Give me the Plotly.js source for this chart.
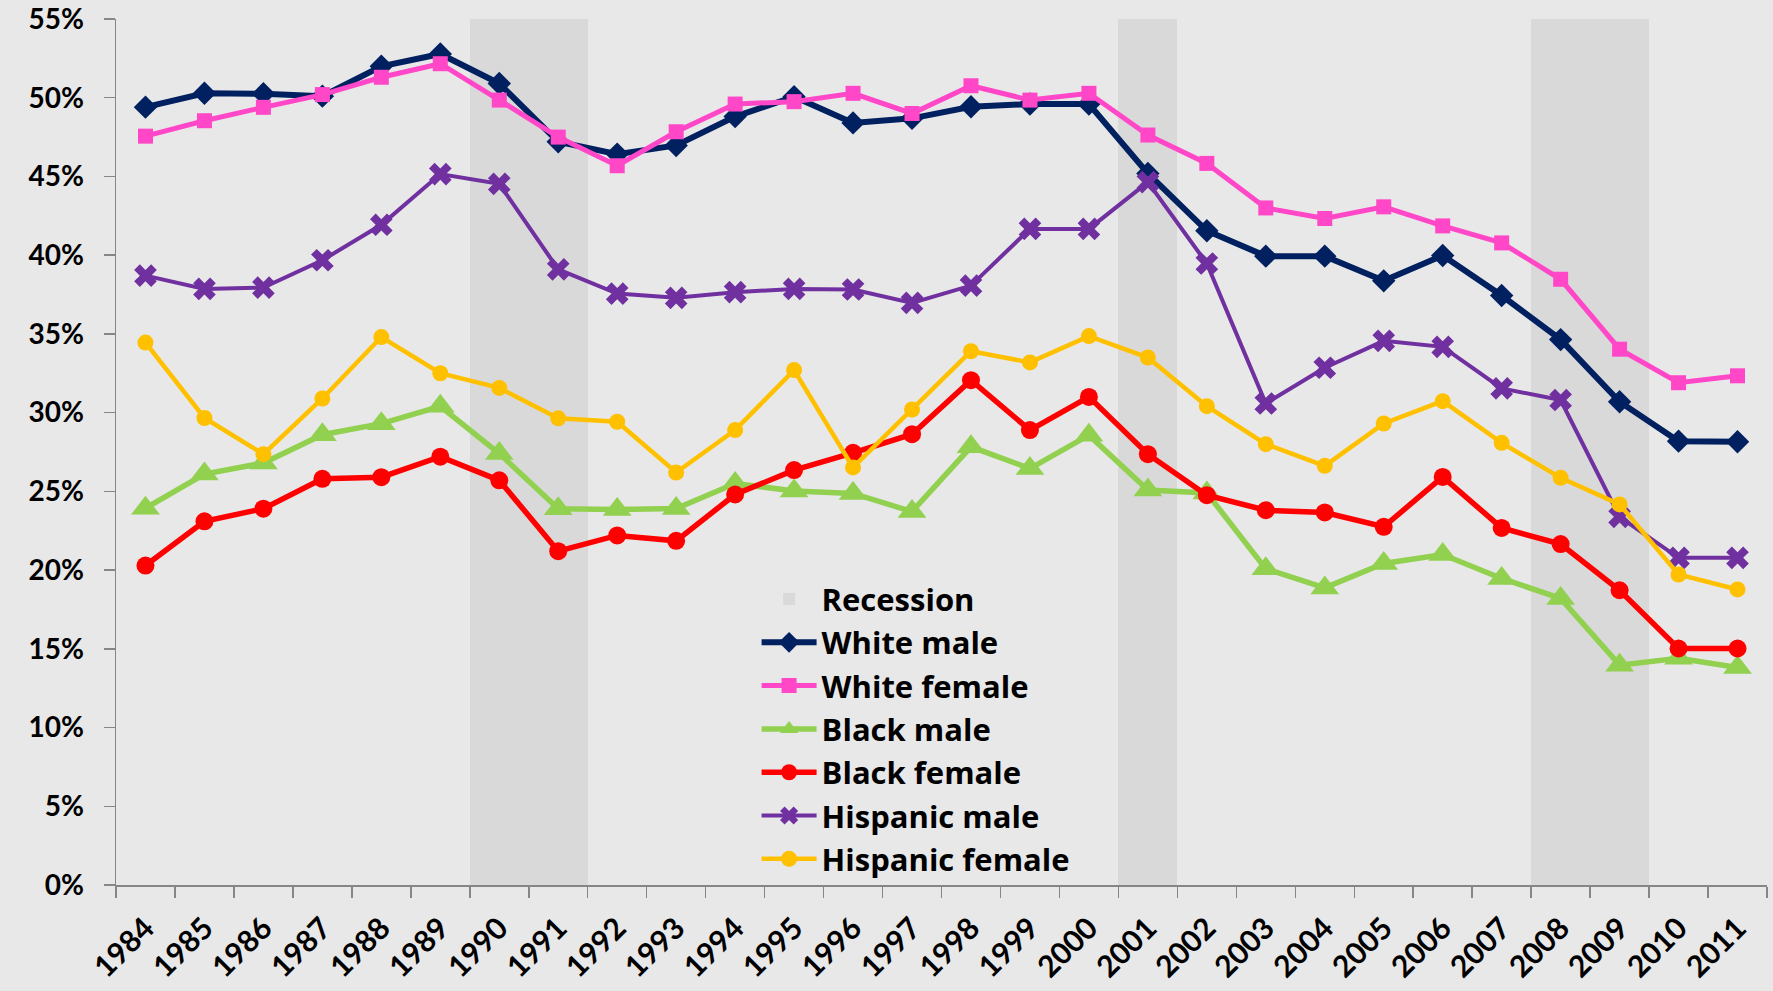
<!DOCTYPE html>
<html>
<head>
<meta charset="utf-8">
<script src="https://cdn.plot.ly/plotly-3.0.1.min.js"></script>
<style>
html,body{margin:0;padding:0;background:#e8e8e8;}
#chart{width:1773px;height:991px;}
</style>
</head>
<body>
<div id="chart"></div>
<script>
const years = ['1984','1985','1986','1987','1988','1989','1990','1991','1992','1993','1994','1995','1996','1997','1998','1999','2000','2001','2002','2003','2004','2005','2006','2007','2008','2009','2010','2011'];
const recessionYears = ['1990','1991','2001','2008','2009'];
const recessionTop = 55;

const whiteMale = [49.4,50.28,50.25,50.1,52.0,52.78,50.9,47.2,46.42,46.97,48.8,50.06,48.4,48.69,49.43,49.6,49.6,45.19,41.55,39.94,39.94,38.37,39.98,37.44,34.64,30.69,28.19,28.15];
const whiteFemale = [47.56,48.54,49.39,50.2,51.3,52.16,49.85,47.5,45.68,47.84,49.6,49.75,50.28,49.0,50.76,49.85,50.28,47.63,45.83,43.0,42.33,43.07,41.86,40.78,38.47,34.03,31.9,32.34];
const blackMale = [23.93,26.1,26.8,28.6,29.3,30.4,27.4,23.9,23.85,23.91,25.5,25.03,24.87,23.72,27.83,26.45,28.57,25.08,24.9,20.08,18.87,20.42,20.99,19.47,18.2,13.96,14.4,13.81];
const blackFemale = [20.29,23.1,23.9,25.8,25.9,27.2,25.7,21.2,22.2,21.86,24.8,26.35,27.45,28.63,32.06,28.89,31.0,27.36,24.76,23.8,23.66,22.75,25.92,22.68,21.65,18.72,15.02,15.02];
const hispanicMale = [38.7,37.86,37.94,39.68,41.93,45.15,44.53,39.1,37.56,37.29,37.65,37.86,37.82,36.97,38.07,41.67,41.67,44.64,39.47,30.58,32.85,34.56,34.18,31.54,30.8,23.38,20.78,20.78];
const hispanicFemale = [34.45,29.66,27.36,30.9,34.8,32.5,31.57,29.64,29.42,26.2,28.89,32.7,26.52,30.2,33.9,33.19,34.86,33.5,30.41,28.0,26.62,29.31,30.73,28.08,25.86,24.17,19.72,18.77];

const recession = years.map(y => recessionYears.includes(y) ? recessionTop : null);

function line(name, vals, color, width, symbol, size) {
  return {
    type: 'scatter', mode: 'lines+markers', name: name, x: years, y: vals,
    line: {color: color, width: width},
    marker: {color: color, symbol: symbol, size: size, line: {width: 0}},
    hoverinfo: 'skip'
  };
}

const data = [
  {type: 'bar', name: 'Recession', x: years, y: recession, width: 1,
   marker: {color: '#d9d9d9', line: {width: 0}}, hoverinfo: 'skip'},
  line('White male', whiteMale, '#002060', 6, 'diamond', 18),
  line('White female', whiteFemale, '#ff47c8', 5, 'square', 15),
  line('Black male', blackMale, '#92d050', 5.5, 'triangle-up', 25),
  line('Black female', blackFemale, '#ff0000', 5.5, 'circle', 18),
  line('Hispanic male', hispanicMale, '#7030a0', 4, 'x', 20),
  line('Hispanic female', hispanicFemale, '#ffc000', 4.5, 'circle', 16)
];

const yFont = {family: 'Lato, sans-serif', size: 28, color: '#000', weight: 'bold'};
const xFont = {family: 'Lato, sans-serif', size: 30, color: '#000', weight: 'bold'};

const layout = {
  width: 1773, height: 991,
  paper_bgcolor: '#e8e8e8', plot_bgcolor: '#e8e8e8',
  margin: {l: 116, r: 6, t: 19, b: 106},
  showlegend: true,
  bargap: 0,
  legend: {
    x: 0.388, y: 0.361, xanchor: 'left', yanchor: 'top',
    bgcolor: 'rgba(0,0,0,0)',
    itemwidth: 55,
    font: {family: '"Open Sans", sans-serif', size: 31, color: '#000', weight: 'bold'},
    traceorder: 'normal'
  },
  xaxis: {
    type: 'category', range: [-0.5, 27.5], showgrid: false, zeroline: false,
    showline: true, linecolor: '#868686', linewidth: 1.5,
    ticks: 'outside', ticklen: 11, tickcolor: '#868686', tickwidth: 1.5,
    tickson: 'boundaries', tickangle: -45, ticklabelstandoff: 12,
    tickfont: xFont
  },
  yaxis: {
    range: [0, 55], dtick: 5, ticksuffix: '%', showgrid: false, zeroline: false,
    showline: true, linecolor: '#868686', linewidth: 1.5,
    ticks: 'outside', ticklen: 11, tickcolor: '#868686', tickwidth: 1.5,
    ticklabelstandoff: 14,
    tickfont: yFont
  }
};

Plotly.newPlot('chart', data, layout, {displayModeBar: false, staticPlot: true});
</script>
</body>
</html>
